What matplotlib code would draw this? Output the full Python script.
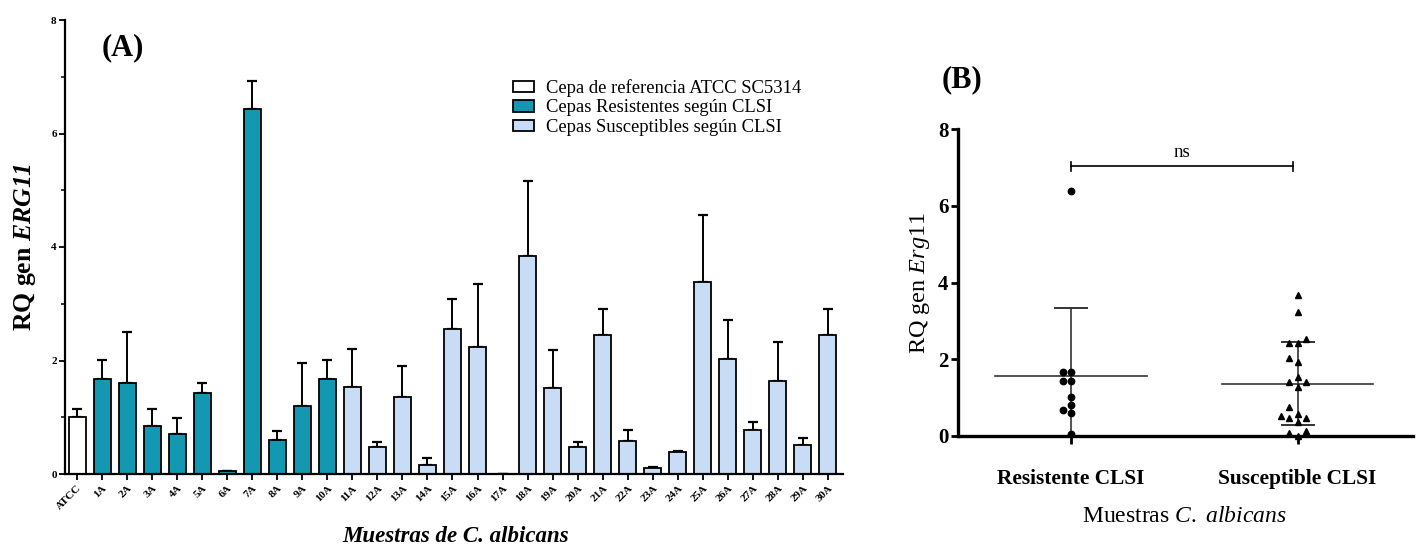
import numpy as np
import matplotlib
matplotlib.use('Agg')
import matplotlib.pyplot as plt
from matplotlib.patches import Patch
from matplotlib.ticker import MultipleLocator

plt.rcParams['font.family'] = ['Liberation Serif', 'DejaVu Serif']
plt.rcParams['mathtext.fontset'] = 'custom'
plt.rcParams['mathtext.rm'] = 'Liberation Serif'
plt.rcParams['mathtext.it'] = 'Liberation Serif:italic'
plt.rcParams['mathtext.bf'] = 'Liberation Serif:bold'
plt.rcParams['mathtext.bfit'] = 'Liberation Serif:italic:bold'

# ---------------- data: panel A ----------------
categories = ['ATCC', '1A', '2A', '3A', '4A', '5A', '6A', '7A', '8A', '9A', '10A',
              '11A', '12A', '13A', '14A', '15A', '16A', '17A', '18A', '19A', '20A',
              '21A', '22A', '23A', '24A', '25A', '26A', '27A', '28A', '29A', '30A']
rq_values = [1.01, 1.68, 1.60, 0.85, 0.71, 1.43, 0.05, 6.43, 0.60, 1.19, 1.68,
             1.53, 0.47, 1.36, 0.16, 2.56, 2.23, 0.00, 3.84, 1.52, 0.47,
             2.45, 0.59, 0.11, 0.38, 3.38, 2.03, 0.78, 1.64, 0.51, 2.45]
rq_errors = [0.13, 0.33, 0.91, 0.29, 0.28, 0.17, 0.01, 0.50, 0.15, 0.77, 0.33,
             0.67, 0.10, 0.55, 0.13, 0.52, 1.11, 0.00, 1.33, 0.67, 0.09,
             0.45, 0.19, 0.01, 0.03, 1.18, 0.69, 0.14, 0.69, 0.12, 0.45]
groups = ['ref'] + ['res'] * 10 + ['sus'] * 20
group_labels = {'ref': 'Cepa de referencia ATCC SC5314',
                'res': 'Cepas Resistentes según CLSI',
                'sus': 'Cepas Susceptibles según CLSI'}
group_colors = {'ref': '#ffffff', 'res': '#1398b2', 'sus': '#c8ddf5'}

# ---------------- data: panel B ----------------
b_categories = ['Resistente CLSI', 'Susceptible CLSI']
resistente_rq = [6.40, 1.66, 1.66, 1.43, 1.43, 1.01, 0.80, 0.66, 0.59, 0.04]
susceptible_rq = [3.67, 3.22, 2.52, 2.41, 2.41, 2.04, 1.92, 1.54, 1.41, 1.41,
                  1.28, 0.76, 0.56, 0.51, 0.47, 0.47, 0.35, 0.13, 0.08, 0.00]

W, H = 1416, 550
fig = plt.figure(figsize=(W / 100, H / 100), dpi=100)

def fx(px):
    return px / W

def fy(py):
    return 1 - py / H

# ================= Panel A =================
axA = fig.add_axes([fx(65), fy(474), fx(843 - 65), (474 - 20) / H])
x = np.arange(len(categories))
colors = [group_colors[g] for g in groups]
axA.bar(x, rq_values, width=0.68, color=colors, edgecolor='black', linewidth=1.3, zorder=2)
axA.errorbar(x, rq_values, yerr=[np.zeros(len(rq_errors)), rq_errors], fmt='none',
             ecolor='black', elinewidth=1.4, capsize=3.6, capthick=1.6, zorder=1)
axA.set_xlim(-0.48, 30.6)
axA.set_ylim(0, 8)
axA.yaxis.set_major_locator(MultipleLocator(2))
axA.yaxis.set_minor_locator(MultipleLocator(1))
axA.set_xticks(x)
axA.set_xticklabels(categories, rotation=45, ha='right', rotation_mode='anchor',
                    fontsize=8, fontweight='bold')
for lab in axA.get_yticklabels():
    lab.set_fontweight('bold')
axA.tick_params(axis='y', which='major', length=4, width=1.3, labelsize=8, pad=2)
axA.tick_params(axis='y', which='minor', length=3, width=1.1)
axA.tick_params(axis='x', which='major', length=4, width=1.3, pad=3)
for s in ['top', 'right']:
    axA.spines[s].set_visible(False)
for s in ['left', 'bottom']:
    axA.spines[s].set_linewidth(1.6)

handles = [Patch(facecolor=group_colors[g], edgecolor='black', linewidth=1.3, label=group_labels[g])
           for g in ['ref', 'res', 'sus']]
fig.legend(handles=handles, loc='upper left', bbox_to_anchor=(fx(513), fy(79)),
           frameon=False, fontsize=13.4, handlelength=1.15, handleheight=0.55,
           handletextpad=0.6, labelspacing=0.14, borderpad=0, borderaxespad=0)

fig.text(fx(123), fy(48), '(A)', fontsize=22, fontweight='bold', ha='center', va='center')
fig.text(fx(25), fy(247), r'RQ gen $\mathbfit{ERG11}$', fontsize=18.5, fontweight='bold',
         rotation=90, ha='center', va='center')
fig.text(fx(456), fy(537), 'Muestras de C. albicans', fontsize=16.5, fontweight='bold',
         fontstyle='italic', ha='center', va='center')

# ================= Panel B =================
axB = fig.add_axes([fx(958), fy(435.7), fx(1413 - 958), (435.7 - 129.3) / H])
axB.set_xlim(-0.5, 1.51)
axB.set_ylim(0, 8)

def swarm_offsets(vals, thresh=0.2, step=0.036):
    order = np.argsort(vals)
    placed = []
    offs = np.zeros(len(vals))
    for i in order:
        v = vals[i]
        for k in [0, -1, 1, -2, 2, -3, 3]:
            if all(abs(v - pv) >= thresh for pv, pk in placed if pk == k):
                placed.append((v, k))
                offs[i] = k * step
                break
    return offs

b_data = [np.array(resistente_rq), np.array(susceptible_rq)]
markers = ['o', '^']
msizes = [4.6, 5.0]
for i, (vals, mk, ms) in enumerate(zip(b_data, markers, msizes)):
    offs = swarm_offsets(vals)
    axB.plot(i + offs, vals, linestyle='none', marker=mk, color='black',
             markersize=ms, clip_on=False, zorder=3)
    m = vals.mean()
    sd = vals.std(ddof=1)
    axB.plot([i - 0.335, i + 0.335], [m, m], color='#333333', lw=1.2, zorder=2)
    axB.errorbar([i], [m], yerr=[[sd], [sd]], fmt='none', ecolor='#333333',
                 elinewidth=1.2, capsize=12.5, capthick=1.4, zorder=2, clip_on=True)

# ns bracket
yb = 7.03
axB.plot([0, 0.98], [yb, yb], color='black', lw=1.2, clip_on=False)
axB.plot([0, 0], [yb - 0.12, yb + 0.12], color='black', lw=1.2, clip_on=False)
axB.plot([0.98, 0.98], [yb - 0.12, yb + 0.12], color='black', lw=1.2, clip_on=False)
axB.text(0.49, yb + 0.15, 'ns', fontsize=13.5, ha='center', va='bottom')

axB.set_xticks([0, 1])
axB.set_xticklabels(b_categories, fontsize=15.4, fontweight='bold')
axB.yaxis.set_major_locator(MultipleLocator(2))
for lab in axB.get_yticklabels():
    lab.set_fontweight('bold')
axB.tick_params(axis='y', length=5, width=2, labelsize=15, pad=2)
axB.tick_params(axis='x', length=6, width=2, pad=18)
for s in ['top', 'right']:
    axB.spines[s].set_visible(False)
for s in ['left', 'bottom']:
    axB.spines[s].set_linewidth(2.4)

fig.text(fx(962), fy(80), '(B)', fontsize=22, fontweight='bold', ha='center', va='center')
fig.text(fx(920), fy(283), r'RQ gen $\mathit{Erg11}$', fontsize=17.5,
         rotation=90, ha='center', va='center')
fig.text(fx(1184), fy(516), r'Muestras $\mathit{C.\ albicans}$', fontsize=17,
         ha='center', va='center')

fig.savefig('out.png', dpi=100)
